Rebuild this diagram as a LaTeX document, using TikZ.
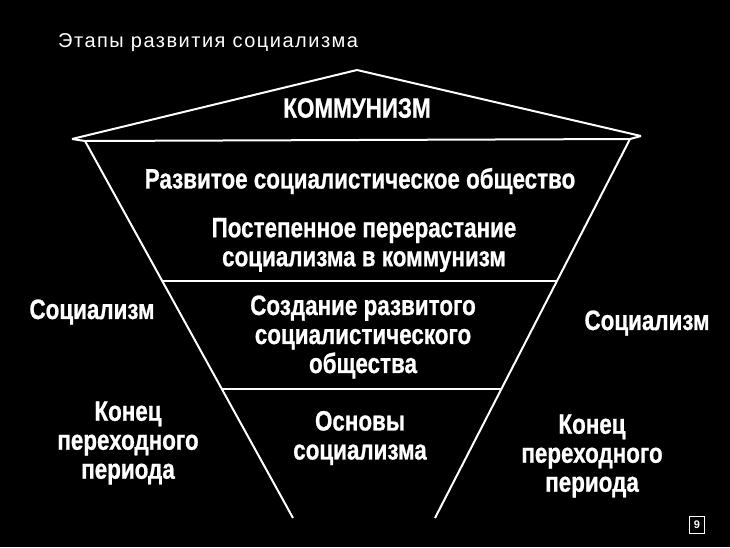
\documentclass[tikz,border=0pt]{standalone}
\usepackage{fontspec}
\setmainfont{Liberation Sans}
\newfontfamily\condfont[FakeStretch=0.8,FakeBold=0.8]{Liberation Sans}
\newfontfamily\titlefont[LetterSpace=7.5]{Liberation Sans}

\begin{document}
\begin{tikzpicture}[
x=1pt, y=-1pt,
edge/.style={draw=white, line width=2pt, line join=round},
stage/.style={text=white, align=center, inner sep=0pt,
font=\condfont\bfseries\fontsize{28}{29}\selectfont},
title/.style={text=white, inner sep=0pt, font=\titlefont\fontsize{20}{22}\selectfont},
pagebox/.style={draw=white, line width=1.2pt, text=white, minimum width=15pt, minimum height=17pt,
inner sep=0pt, font=\bfseries\fontsize{11}{12}\selectfont}
]

\fill[black] (0,0) rectangle (730,547);

% outline
\coordinate (roofL) at (72,139);
\coordinate (apex) at (357,70);
\coordinate (roofR) at (641,136);
\coordinate (baseL) at (85,141);
\coordinate (baseR) at (630,139);
\coordinate (botL) at (293,518);
\coordinate (botR) at (435,518);
\coordinate (midL) at (163,281);
\coordinate (midR) at (557,281);
\coordinate (lowL) at (222,389);
\coordinate (lowR) at (501,389);

\draw[edge] (roofL)--(apex)--(roofR);
\draw[edge] (roofL)--(baseL)--(baseR)--(roofR);
\draw[edge] (baseL)--(botL);
\draw[edge] (baseR)--(botR);
\draw[edge] (midL)--(midR);
\draw[edge] (lowL)--(lowR);

\node[title, anchor=west] (head) at (58,43) {Этапы развития социализма};

\node[stage] (commun) at (357,108) {КОММУНИЗМ};
\node[stage] (developed) at (360,181) {Развитое социалистическое общество};
\node[stage] (gradual) at (364,245) {Постепенное перерастание\\социализма в коммунизм};
\node[stage] (creation) at (363,337) {Создание развитого\\социалистического\\общества};
\node[stage] (basics) at (360,438) {Основы\\социализма};

\node[stage] (socL) at (92,312) {Социализм};
\node[stage] (endL) at (128,443) {Конец\\переходного\\периода};
\node[stage] (socR) at (647,323) {Социализм};
\node[stage] (endR) at (592,456) {Конец\\переходного\\периода};

\node[pagebox] (page) at (697,525) {9};
\end{tikzpicture}
\end{document}
